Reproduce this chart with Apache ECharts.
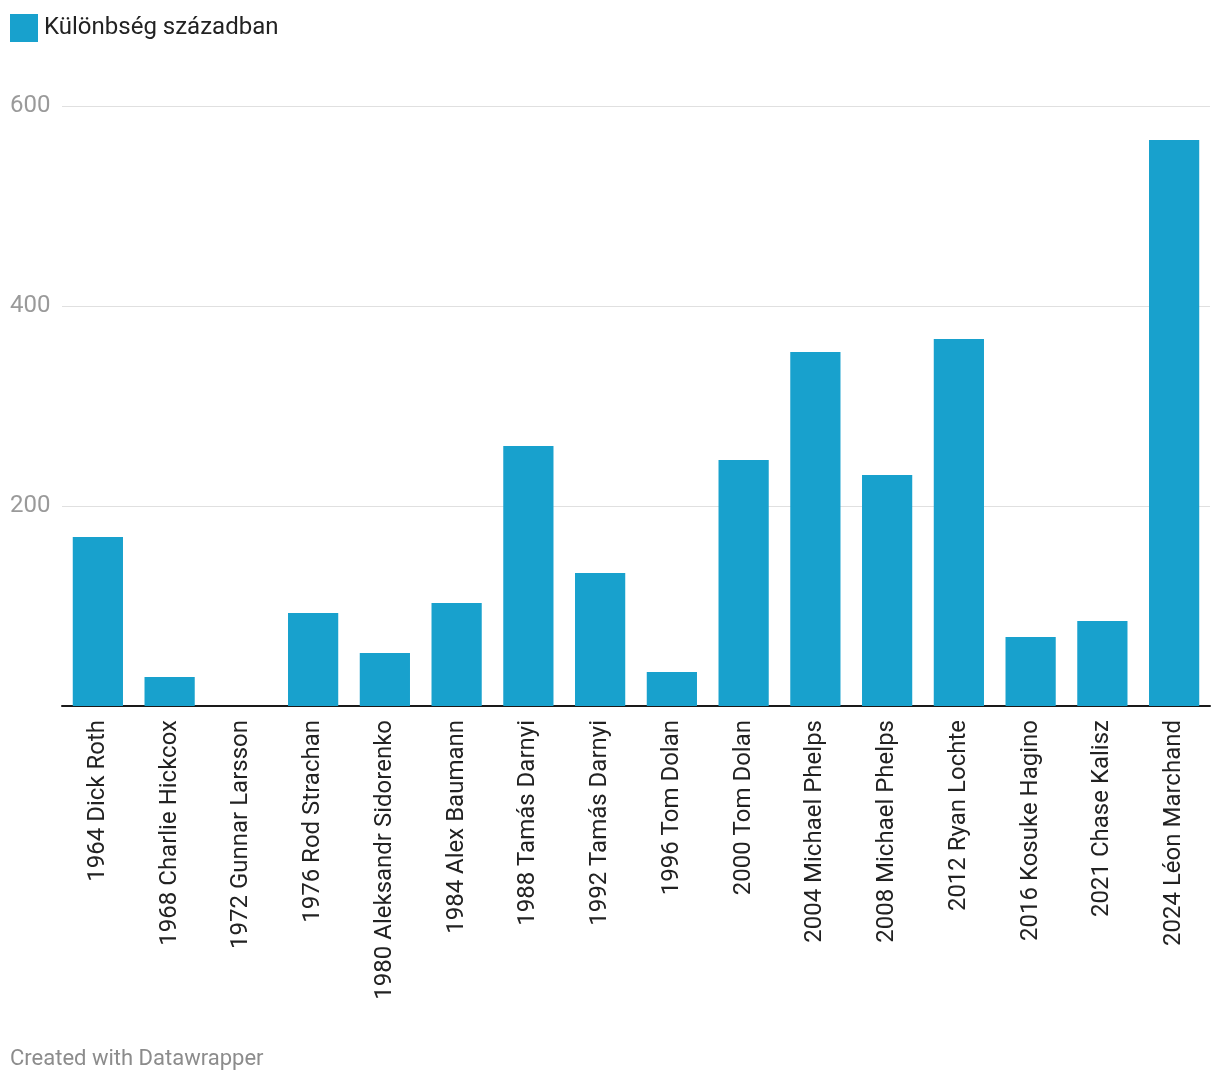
<!DOCTYPE html>
<html><head><meta charset="utf-8">
<script src="https://cdn.jsdelivr.net/npm/echarts@6/dist/echarts.min.js"></script>
<style>html,body{margin:0;padding:0;background:#fff}#c{width:1220px;height:1084px}</style>
</head><body><div id="c"></div>
<script>
const categories = ["1964 Dick Roth","1968 Charlie Hickcox","1972 Gunnar Larsson","1976 Rod Strachan","1980 Aleksandr Sidorenko","1984 Alex Baumann","1988 Tamás Darnyi","1992 Tamás Darnyi","1996 Tom Dolan","2000 Tom Dolan","2004 Michael Phelps","2008 Michael Phelps","2012 Ryan Lochte","2016 Kosuke Hagino","2021 Chase Kalisz","2024 Léon Marchand"];
const values = [169, 29, 0, 93, 53, 103, 260, 133, 34, 246, 354, 231, 367, 69, 85, 566];
const seriesName = "Különbség században";
const yTicks = [0, 200, 400, 600];

const chart = echarts.init(document.getElementById('c'), null, {renderer: 'canvas'});
chart.setOption({
  animation: false,
  textStyle: {fontFamily: 'Roboto'},
  legend: {
    left: 5, top: 9, itemWidth: 28, itemHeight: 28, itemGap: 10,
    icon: 'rect',
    textStyle: {fontSize: 24, color: '#222', fontFamily: 'Roboto', padding: [0,0,0,1]},
    data: [seriesName]
  },
  graphic: [{
    type: 'text', left: 10, top: 1048,
    style: {text: 'Created with Datawrapper', fontSize: 22, fill: '#8c8c8c', fontFamily: 'Roboto'}
  }],
  grid: {left: 62, right: 10, top: 106, height: 600, containLabel: false},
  xAxis: {
    type: 'category', data: categories,
    axisLine: {show: true, onZero: false, lineStyle: {color: '#1a1a1a', width: 2}},
    axisTick: {show: false},
    axisLabel: {rotate: 90, fontSize: 24, color: '#222', margin: 14, fontFamily: 'Roboto', interval: 0, padding: [0,0,4,0]}
  },
  yAxis: {
    type: 'value', min: 0, max: 600, interval: 200,
    axisLine: {show: false}, axisTick: {show: false},
    splitLine: {lineStyle: {color: '#e0e0e0', width: 1}},
    axisLabel: {
      align: 'left', margin: 52, fontSize: 24, color: '#9a9a9a', fontFamily: 'Roboto',
      padding: [5,0,0,0],
      formatter: v => (v === 0 ? '' : (yTicks.includes(v) ? String(v) : ''))
    }
  },
  series: [{
    name: seriesName, type: 'bar', data: values,
    barCategoryGap: '30%',
    itemStyle: {color: '#18a1cd'}
  }]
});
</script></body></html>
